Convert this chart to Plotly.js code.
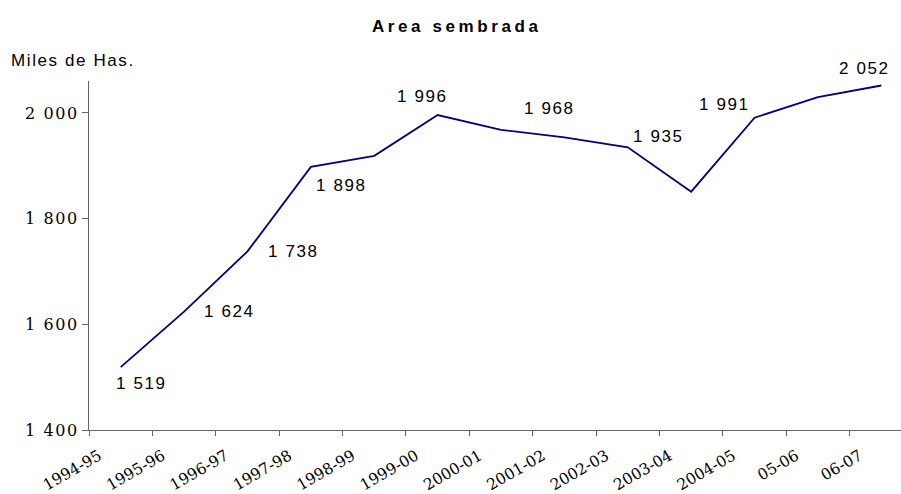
<!DOCTYPE html>
<html>
<head>
<meta charset="utf-8">
<script src="https://cdn.plot.ly/plotly-3.0.1.min.js"></script>
<style>
  html, body { margin: 0; padding: 0; background: #fff; }
  #chart { width: 901px; height: 494px; }
  .gtitle { letter-spacing: 3.6px; }
  .annotation-text { letter-spacing: 1.6px; }
  .ytick text { letter-spacing: 1.6px; }
</style>
</head>
<body>
<div id="chart"></div>
<script>
// ---- data ----
var campaigns = ["1994-95","1995-96","1996-97","1997-98","1998-99","1999-00","2000-01",
                 "2001-02","2002-03","2003-04","2004-05","05-06","06-07"];
var areaSown = [1519, 1624, 1738, 1898, 1919, 1996, 1968, 1954, 1935, 1851, 1991, 2030, 2052];
var labeledIdx = [0, 1, 2, 3, 5, 6, 8, 10, 12];
var yTickVals = [1400, 1600, 1800, 2000];
var yTickText = ["1 400", "1 600", "1 800", "2 000"];
var chartTitle = "Area sembrada";
var unitLabel = "Miles de Has.";

// ---- label offsets (pixels) ----
var labelShift = {
  0: [21, -16], 1: [45, 0], 2: [46, 0], 3: [31, -19], 5: [-15, 19],
  6: [48, 21], 8: [31, 11], 10: [-30, 13], 12: [-17, 17]
};

var SANS = "Liberation Sans";
var SERIF = "DejaVu Serif";

function fmt(v) { return String(v).replace(/\B(?=(\d{3})+(?!\d))/g, " "); }

// category index positions (points sit in the middle of each category band)
var xIdx = campaigns.map(function (c, i) { return i; });
var xBoundaries = campaigns.map(function (c, i) { return i - 0.5; });

var annotations = labeledIdx.map(function (i) {
  return {
    x: xIdx[i], y: areaSown[i], xref: "x", yref: "y",
    text: fmt(areaSown[i]), showarrow: false,
    xanchor: "center", yanchor: "middle",
    xshift: labelShift[i][0], yshift: labelShift[i][1],
    font: { family: SANS, size: 17, color: "#000000" }
  };
});
annotations.push({
  xref: "paper", yref: "paper", x: -0.0985, y: 1.06,
  xanchor: "left", yanchor: "middle", showarrow: false,
  text: unitLabel,
  font: { family: SANS, size: 17, color: "#000000" }
});

var trace = {
  x: xIdx, y: areaSown, text: campaigns, type: "scatter", mode: "lines",
  line: { color: "#000080", width: 1.8 }, hoverinfo: "text+y"
};

var layout = {
  width: 901, height: 494,
  margin: { l: 89, r: 0, t: 81, b: 64 },
  paper_bgcolor: "#ffffff", plot_bgcolor: "#ffffff",
  showlegend: false,
  font: { family: SERIF, size: 15, color: "#000000" },
  title: {
    text: "<b>" + chartTitle + "</b>",
    xref: "container", x: 0.507, xanchor: "center",
    yref: "container", y: 0.947, yanchor: "middle",
    font: { family: SANS, size: 17, color: "#000000" }
  },
  xaxis: {
    range: [-0.5, 12.31],
    tickmode: "array", tickvals: xBoundaries, ticktext: campaigns,
    ticks: "outside", ticklen: 5, tickcolor: "#666666",
    showline: true, linecolor: "#666666", linewidth: 1,
    showgrid: false, zeroline: false,
    tickangle: -30, ticklabelshift: 10, ticklabelstandoff: 5,
    tickfont: { family: SERIF, size: 15.5, color: "#000000" }
  },
  yaxis: {
    range: [1400, 2060.5], tickmode: "array", tickvals: yTickVals, ticktext: yTickText,
    ticks: "outside", ticklen: 6, tickcolor: "#666666",
    showline: true, linecolor: "#666666", linewidth: 1,
    showgrid: false, zeroline: false,
    tickfont: { family: SERIF, size: 16, color: "#000000" }
  },
  annotations: annotations
};

Plotly.newPlot("chart", [trace], layout, { displayModeBar: false, staticPlot: true });
</script>
</body>
</html>
